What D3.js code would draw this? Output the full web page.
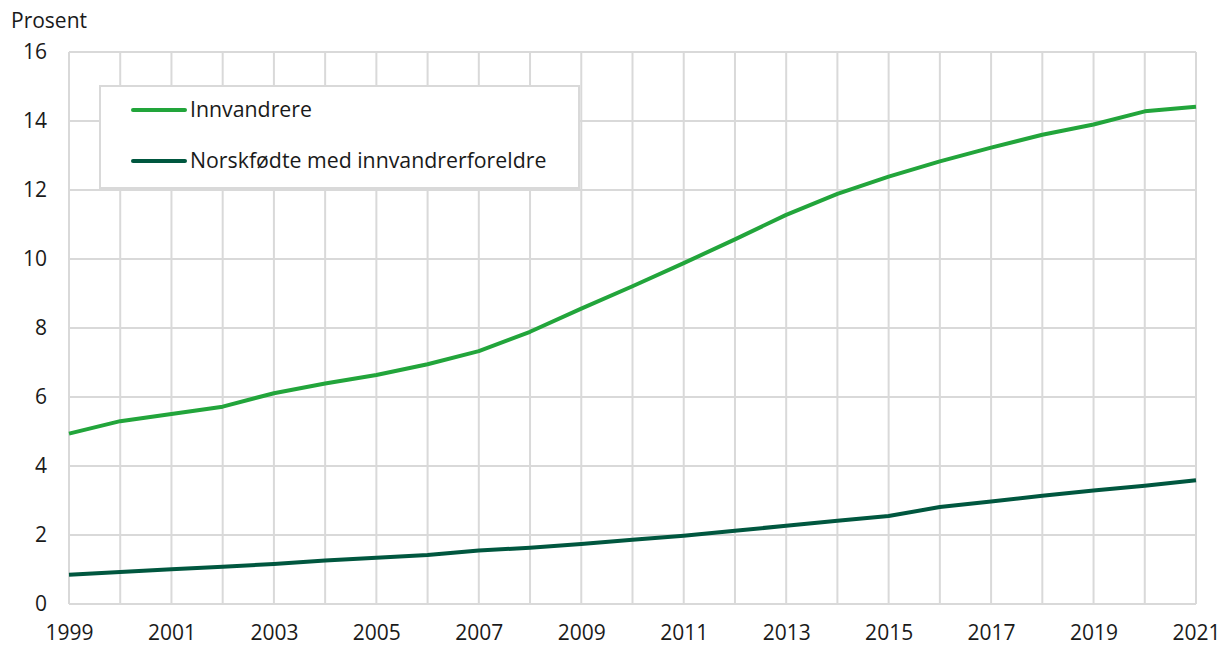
<!DOCTYPE html>
<html><head><meta charset="utf-8">
<script src="https://cdn.jsdelivr.net/npm/d3@7"></script>
<style>body{margin:0;background:#fff}svg{display:block}text{font-family:"Open Sans",sans-serif;fill:#1a1a1a}</style>
</head><body><svg id="c" width="1220" height="646"></svg>
<script>
const years = d3.range(1999, 2022);
const innvandrere = [4.94,5.30,5.51,5.72,6.11,6.39,6.64,6.95,7.33,7.89,8.56,9.21,9.88,10.57,11.28,11.89,12.39,12.83,13.23,13.60,13.90,14.28,14.41];
const norskfodte = [0.85,0.93,1.01,1.08,1.16,1.26,1.34,1.42,1.55,1.63,1.74,1.86,1.98,2.12,2.27,2.41,2.55,2.81,2.97,3.14,3.29,3.43,3.59];
const seriesNames = ["Innvandrere","Norskfødte med innvandrerforeldre"];
const seriesColors = ["#22a53b","#00573f"];
const yTicks = [0,2,4,6,8,10,12,14,16];
const xTickYears = [1999,2001,2003,2005,2007,2009,2011,2013,2015,2017,2019,2021];
const yLabel = "Prosent";

const svg = d3.select("#c");
const m = {l:69, r:1196, t:52, b:604};
const x = d3.scaleLinear().domain([1999,2021]).range([m.l,m.r]);
const y = d3.scaleLinear().domain([0,16]).range([m.b,m.t]);
const grid = "#d9d9d9";
const fs = "21px";

svg.append("g").selectAll("line").data(years).join("line")
  .attr("x1",d=>x(d)).attr("x2",d=>x(d)).attr("y1",m.t).attr("y2",m.b)
  .attr("stroke",grid).attr("stroke-width",2);
svg.append("g").selectAll("line").data(yTicks).join("line")
  .attr("x1",m.l).attr("x2",m.r).attr("y1",d=>y(d)).attr("y2",d=>y(d))
  .attr("stroke",grid).attr("stroke-width",2);

const ya = svg.append("g").attr("transform",`translate(${m.l},0)`)
  .call(d3.axisLeft(y).tickValues(yTicks).tickSize(0).tickPadding(22));
ya.select(".domain").remove();
ya.selectAll("text").style("font-family","'Open Sans',sans-serif").style("font-size",fs)
  .attr("fill","#1a1a1a").attr("dy","0.3em");

const xa = svg.append("g").attr("transform",`translate(0,${m.b})`)
  .call(d3.axisBottom(x).tickValues(xTickYears).tickFormat(d3.format("d")).tickSize(0));
xa.select(".domain").remove();
xa.selectAll("text").style("font-family","'Open Sans',sans-serif").style("font-size",fs)
  .attr("fill","#1a1a1a").attr("y",35.5).attr("dy","0");

svg.append("text").attr("x",11).attr("y",28).style("font-size",fs).text(yLabel);

const line = d3.line().x((d,i)=>x(years[i])).y(d=>y(d));
[innvandrere,norskfodte].forEach((s,k)=>{
  svg.append("path").attr("d",line(s)).attr("fill","none")
    .attr("stroke",seriesColors[k]).attr("stroke-width",4).attr("stroke-linejoin","round");
});

const lg = svg.append("g");
lg.append("rect").attr("x",100).attr("y",86).attr("width",479).attr("height",102)
  .attr("fill","#fff").attr("stroke",grid).attr("stroke-width",2);
seriesNames.forEach((n,k)=>{
  const yy = 110 + k*51;
  lg.append("line").attr("x1",133).attr("x2",185).attr("y1",yy).attr("y2",yy)
    .attr("stroke",seriesColors[k]).attr("stroke-width",4).attr("stroke-linecap","round");
  lg.append("text").attr("x",190).attr("y",yy).attr("dy","0.35em").style("font-size","21.3px").text(n);
});
</script></body></html>
